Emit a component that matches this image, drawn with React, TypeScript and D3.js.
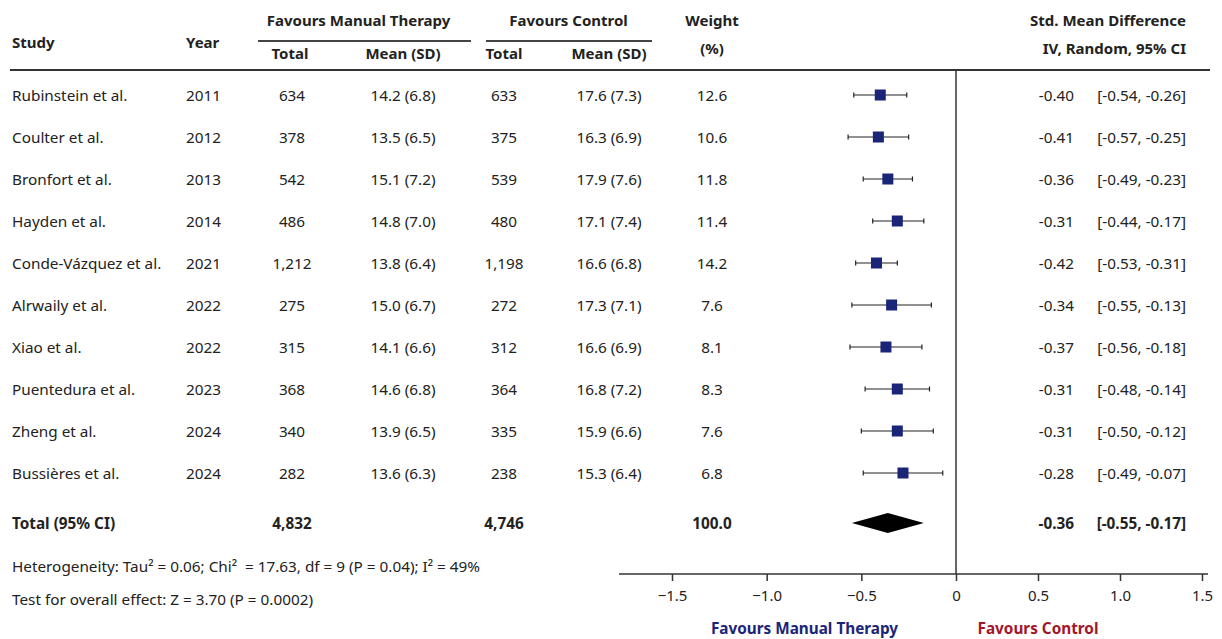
import React from "react";
import * as d3 from "d3";

const studies = ["Rubinstein et al.", "Coulter et al.", "Bronfort et al.", "Hayden et al.", "Conde-Vázquez et al.", "Alrwaily et al.", "Xiao et al.", "Puentedura et al.", "Zheng et al.", "Bussières et al."];
const years = [2011, 2012, 2013, 2014, 2021, 2022, 2022, 2023, 2024, 2024];
const mtTotal = ["634", "378", "542", "486", "1,212", "275", "315", "368", "340", "282"];
const mtMean = ["14.2 (6.8)", "13.5 (6.5)", "15.1 (7.2)", "14.8 (7.0)", "13.8 (6.4)", "15.0 (6.7)", "14.1 (6.6)", "14.6 (6.8)", "13.9 (6.5)", "13.6 (6.3)"];
const ctTotal = ["633", "375", "539", "480", "1,198", "272", "312", "364", "335", "238"];
const ctMean = ["17.6 (7.3)", "16.3 (6.9)", "17.9 (7.6)", "17.1 (7.4)", "16.6 (6.8)", "17.3 (7.1)", "16.6 (6.9)", "16.8 (7.2)", "15.9 (6.6)", "15.3 (6.4)"];
const weights = [12.6, 10.6, 11.8, 11.4, 14.2, 7.6, 8.1, 8.3, 7.6, 6.8];
const smd = [-0.40, -0.41, -0.36, -0.31, -0.42, -0.34, -0.37, -0.31, -0.31, -0.28];
const ciLow = [-0.54, -0.57, -0.49, -0.44, -0.53, -0.55, -0.56, -0.48, -0.50, -0.49];
const ciHigh = [-0.26, -0.25, -0.23, -0.17, -0.31, -0.13, -0.18, -0.14, -0.12, -0.07];
const totalMT = "4,832";
const totalCT = "4,746";
const totalWeight = "100.0";
const pooled = { est: -0.36, lo: -0.55, hi: -0.17 };
const tickValues = [-1.5, -1.0, -0.5, 0, 0.5, 1.0, 1.5];
const heterogeneity = "Heterogeneity: Tau² = 0.06; Chi²  = 17.63, df = 9 (P = 0.04); I² = 49%";
const overallTest = "Test for overall effect: Z = 3.70 (P = 0.0002)";

const FONT = "'Noto Sans', 'Open Sans', sans-serif";
const TXT = "#222";
const NAVY = "#1b2578";
const RED = "#a3162a";

const fmt2 = (v: number) => v.toFixed(2);
const fmtTick = (v: number) => (v === 0 ? "0" : (v < 0 ? "\u2212" : "") + Math.abs(v).toFixed(1));

export default function App() {
  const x = d3.scaleLinear().domain([-1.5, 0, 1.5]).range([672, 956, 1202]);
  const rowY = d3.scaleLinear().domain([0, 1]).range([95, 137]);
  const totalY = 523;
  const headerLineY = 70;
  const axisY = 574;

  const col = { study: 12, year: 186, mtT: 292, mtM: 403, ctT: 504, ctM: 609, w: 712, est: 1074, ci: 1186 };
  const fs = 15.3;
  const hfs = 15;

  const axisRef = React.useRef<SVGGElement>(null);
  React.useEffect(() => {
    if (!axisRef.current) return;
    const g = d3.select(axisRef.current);
    g.selectAll("*").remove();
    g.call(d3.axisBottom(x).tickValues(tickValues).tickFormat((d: any) => fmtTick(d)).tickSize(7).tickPadding(9) as any);
    g.select(".domain").remove();
    g.selectAll(".tick line").attr("stroke", "#333").attr("stroke-width", 1.5);
    g.selectAll(".tick text").attr("font-family", FONT).attr("font-size", 15).attr("fill", TXT);
  }, []);

  const diamond = `M${x(pooled.lo)},${totalY} L${x(pooled.est)},${totalY - 10} L${x(pooled.hi)},${totalY} L${x(pooled.est)},${totalY + 10} Z`;

  return (
    <svg width={1222} height={639} style={{ position: "absolute", left: 0, top: 0, background: "#fff" }} fontFamily={FONT}>
      <rect width={1222} height={639} fill="#fff" />
      {/* headers */}
      <g fontWeight="bold" fontSize={hfs} fill={TXT}>
        <text x={col.study} y={42} dominantBaseline="central">Study</text>
        <text x={col.year} y={42} dominantBaseline="central">Year</text>
        <text x={(col.mtT + col.mtM) / 2 + 11} y={20} textAnchor="middle" dominantBaseline="central">Favours Manual Therapy</text>
        <text x={(col.ctT + col.ctM) / 2 + 12} y={20} textAnchor="middle" dominantBaseline="central">Favours Control</text>
        <text x={col.mtT - 2} y={53} textAnchor="middle" dominantBaseline="central">Total</text>
        <text x={col.mtM} y={53} textAnchor="middle" dominantBaseline="central">Mean (SD)</text>
        <text x={col.ctT} y={53} textAnchor="middle" dominantBaseline="central">Total</text>
        <text x={col.ctM} y={53} textAnchor="middle" dominantBaseline="central">Mean (SD)</text>
        <text x={col.w} y={20} textAnchor="middle" dominantBaseline="central">Weight</text>
        <text x={col.w} y={48} textAnchor="middle" dominantBaseline="central">(%)</text>
        <text x={col.ci} y={20} textAnchor="end" dominantBaseline="central">Std. Mean Difference</text>
        <text x={col.ci} y={48} textAnchor="end" dominantBaseline="central">IV, Random, 95% CI</text>
      </g>
      <line x1={258} x2={471} y1={41} y2={41} stroke="#444" strokeWidth={2} />
      <line x1={486} x2={652} y1={41} y2={41} stroke="#444" strokeWidth={2} />
      <line x1={10} x2={1210} y1={headerLineY} y2={headerLineY} stroke="#333" strokeWidth={2} />

      {/* zero line */}
      <line x1={x(0)} x2={x(0)} y1={headerLineY} y2={axisY} stroke="#333" strokeWidth={1.5} />

      {/* rows */}
      <g fontSize={fs} fill={TXT}>
        {studies.map((s, i) => {
          const y = rowY(i);
          return (
            <g key={s}>
              <text x={col.study} y={y} dominantBaseline="central">{s}</text>
              <text x={col.year} y={y} dominantBaseline="central">{years[i]}</text>
              <text x={col.mtT} y={y} textAnchor="middle" dominantBaseline="central">{mtTotal[i]}</text>
              <text x={col.mtM} y={y} textAnchor="middle" dominantBaseline="central">{mtMean[i]}</text>
              <text x={col.ctT} y={y} textAnchor="middle" dominantBaseline="central">{ctTotal[i]}</text>
              <text x={col.ctM} y={y} textAnchor="middle" dominantBaseline="central">{ctMean[i]}</text>
              <text x={col.w} y={y} textAnchor="middle" dominantBaseline="central">{weights[i].toFixed(1)}</text>
              <text x={col.est} y={y} textAnchor="end" dominantBaseline="central">{fmt2(smd[i])}</text>
              <text x={col.ci} y={y} textAnchor="end" dominantBaseline="central">{`[${fmt2(ciLow[i])}, ${fmt2(ciHigh[i])}]`}</text>
              <line x1={x(ciLow[i])} x2={x(ciHigh[i])} y1={y} y2={y} stroke="#222" strokeWidth={1.2} />
              <line x1={x(ciLow[i])} x2={x(ciLow[i])} y1={y - 2.5} y2={y + 2.5} stroke="#222" strokeWidth={1.2} />
              <line x1={x(ciHigh[i])} x2={x(ciHigh[i])} y1={y - 2.5} y2={y + 2.5} stroke="#222" strokeWidth={1.2} />
              <rect x={x(smd[i]) - 5.5} y={y - 5.5} width={11} height={11} fill={NAVY} />
            </g>
          );
        })}
      </g>

      {/* total */}
      <g fontSize={fs} fontWeight="bold" fill={TXT}>
        <text x={col.study} y={totalY} dominantBaseline="central">Total (95% CI)</text>
        <text x={col.mtT} y={totalY} textAnchor="middle" dominantBaseline="central">{totalMT}</text>
        <text x={col.ctT} y={totalY} textAnchor="middle" dominantBaseline="central">{totalCT}</text>
        <text x={col.w} y={totalY} textAnchor="middle" dominantBaseline="central">{totalWeight}</text>
        <text x={col.est} y={totalY} textAnchor="end" dominantBaseline="central">{fmt2(pooled.est)}</text>
        <text x={col.ci} y={totalY} textAnchor="end" dominantBaseline="central">{`[${fmt2(pooled.lo)}, ${fmt2(pooled.hi)}]`}</text>
      </g>
      <path d={diamond} fill="#000" />

      {/* footnotes */}
      <g fontSize={fs} fill={TXT} style={{ whiteSpace: "pre" }}>
        <text x={col.study} y={566} dominantBaseline="central" xmlSpace="preserve">{heterogeneity}</text>
        <text x={col.study} y={599} dominantBaseline="central">{overallTest}</text>
      </g>

      {/* axis */}
      <line x1={x(-1.5) - 53} x2={x(1.5) + 6} y1={axisY} y2={axisY} stroke="#333" strokeWidth={1.5} />
      <g ref={axisRef} transform={`translate(0,${axisY})`} />
      <g fontSize={fs} fontWeight="bold">
        <text x={x(-0.8)} y={628} textAnchor="middle" dominantBaseline="central" fill={NAVY}>Favours Manual Therapy</text>
        <text x={x(0.5)} y={628} textAnchor="middle" dominantBaseline="central" fill={RED}>Favours Control</text>
      </g>
    </svg>
  );
}
